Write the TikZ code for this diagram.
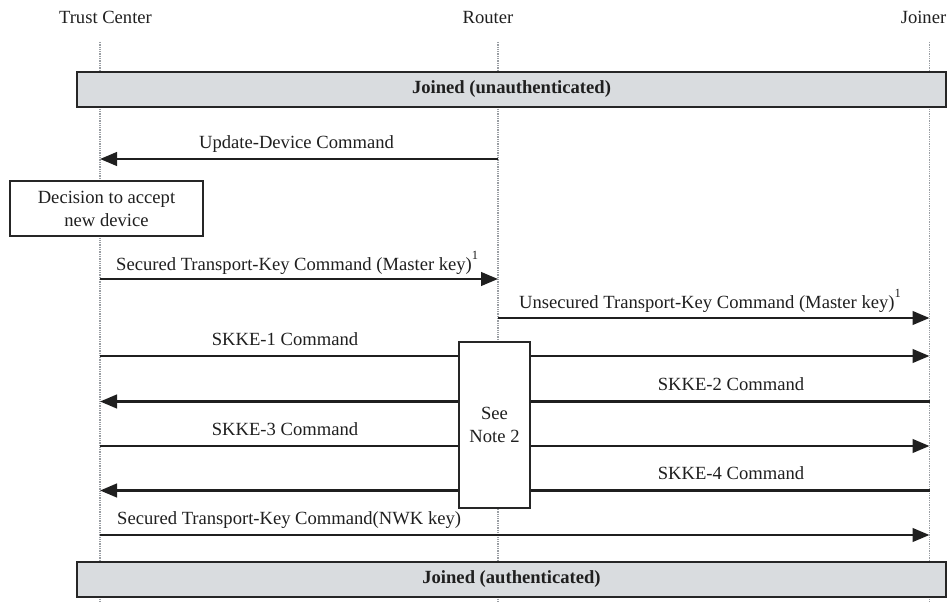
\documentclass[tikz,border=0pt]{standalone}
\usepackage{fontspec}
\setmainfont{Liberation Serif}
\usetikzlibrary{arrows.meta}
\definecolor{barfill}{HTML}{D9DCDF}
\definecolor{lifegray}{HTML}{9A9EA3}
\newcommand{\notemark}[1]{\raisebox{0.55em}{\fontsize{12.5}{13}\selectfont #1}}
\begin{document}
\begin{tikzpicture}[x=1pt,y=-1pt,
  lbl/.style={font=\fontsize{18.6}{23}\selectfont, inner sep=0pt, text=black!88},
  life/.style={draw=lifegray, line width=1.3pt, densely dotted},
  msg/.style={draw=black!88, line width=2.7pt, -{Triangle[length=17pt,width=13.5pt]}},
  bar/.style={draw=black!85, line width=1.6pt, fill=barfill, minimum width=869pt, minimum height=35pt, inner sep=0pt, text=black!88, font=\bfseries\fontsize{18.6}{23}\selectfont},
  boxn/.style={draw=black!85, fill=white, line width=1.6pt, align=center, inner sep=0pt, text=black!88, font=\fontsize{18.6}{23}\selectfont}
]
\useasboundingbox (0,0) rectangle (948,602);

% headers
\node[lbl, anchor=base] (htc) at (105.5,24) {Trust Center};
\node[lbl, anchor=base] (hr) at (488,24) {Router};
\node[lbl, anchor=base] (hj) at (923.5,24) {Joiner};

% lifeline ends
\coordinate (tcT) at (100,42);  \coordinate (tcB) at (100,601);
\coordinate (rT) at (498,42);   \coordinate (rB) at (498,601);
\coordinate (jT) at (929.5,42); \coordinate (jB) at (929.5,601);
\draw[life] (tcT) -- (tcB);
\draw[life] (rT) -- (rB);
\draw[life] (jT) -- (jB);

% bars
\node[bar] (top) at (511.5,89.5) {Joined (unauthenticated)};
\node[bar] (bot) at (511.5,579.5) {Joined (authenticated)};

% message points
\coordinate (tc1) at (100,159);   \coordinate (r1) at (498,159);
\coordinate (tc2) at (100,279);   \coordinate (r2) at (498,279);
\coordinate (r3) at (498,318);    \coordinate (j3) at (929.5,318);
\coordinate (tc4) at (100,356);   \coordinate (j4) at (929.5,356);
\coordinate (tc5) at (100,401.5); \coordinate (j5) at (929.5,401.5);
\coordinate (tc6) at (100,446);   \coordinate (j6) at (929.5,446);
\coordinate (tc7) at (100,490.5); \coordinate (j7) at (929.5,490.5);
\coordinate (tc8) at (100,535);   \coordinate (j8) at (929.5,535);

\draw[msg] (r1) -- (tc1);
\node[lbl, anchor=base] (l1) at (296.5,148) {Update-Device Command};

\node[boxn, minimum width=193pt, minimum height=55pt] (dec) at (106.5,208.5) {Decision to accept\\new device};

\draw[msg] (tc2) -- (r2);
\node[lbl, anchor=base west] (l2) at (116,270) {Secured Transport-Key Command (Master key)\notemark{1}};

\draw[msg] (r3) -- (j3);
\node[lbl, anchor=base west] (l3) at (519,308) {Unsecured Transport-Key Command (Master key)\notemark{1}};

\draw[msg] (tc4) -- (j4);
\node[lbl, anchor=base] (l4) at (285,345) {SKKE-1 Command};

\draw[msg] (j5) -- (tc5);
\node[lbl, anchor=base] (l5) at (731,390) {SKKE-2 Command};

\draw[msg] (tc6) -- (j6);
\node[lbl, anchor=base] (l6) at (285,435) {SKKE-3 Command};

\draw[msg] (j7) -- (tc7);
\node[lbl, anchor=base] (l7) at (731,479) {SKKE-4 Command};

\draw[msg] (tc8) -- (j8);
\node[lbl, anchor=base west] (l8) at (117,524) {Secured Transport-Key Command(NWK key)};

\node[boxn, minimum width=71pt, minimum height=166pt] (note) at (494.5,425) {See\\Note 2};
\end{tikzpicture}
\end{document}
